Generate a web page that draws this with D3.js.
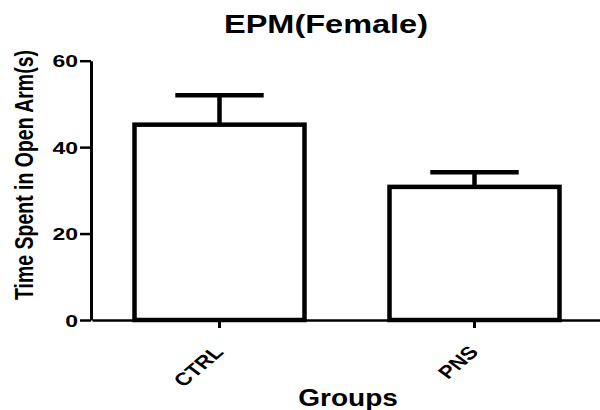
<!DOCTYPE html>
<html>
<head>
<meta charset="utf-8">
<script src="https://cdn.jsdelivr.net/npm/d3@7/dist/d3.min.js"></script>
<style>
  html, body { margin: 0; padding: 0; background: #fff; }
  svg { display: block; }
  text { font-family: "Liberation Sans", Arial, sans-serif; fill: #000; }
</style>
</head>
<body>
<svg id="chart" width="600" height="410"></svg>
<script>
// Data
const groups = ["CTRL", "PNS"];
const means = [45.2, 30.8];
const sems = [6.8, 3.4];
const yTicks = [0, 20, 40, 60];
const title = "EPM(Female)";
const xTitle = "Groups";
const yTitle = "Time Spent in Open Arm(s)";

const svg = d3.select("#chart");
const stretch = 1.35; // glyphs are set wide

const x = d3.scaleBand().domain(groups).range([92, 602])
  .paddingInner(1 / 3).paddingOuter(1 / 6);
const y = d3.scaleLinear().domain([0, 60]).range([320, 60.7]);

// Bars
svg.append("g").selectAll("rect").data(groups).join("rect")
  .attr("x", d => x(d))
  .attr("y", (d, i) => y(means[i]))
  .attr("width", x.bandwidth())
  .attr("height", (d, i) => y(0) - y(means[i]))
  .attr("fill", "#fff").attr("stroke", "#000").attr("stroke-width", 4.5)
  .attr("stroke-linejoin", "miter");

// Error bars (upper only)
const eb = svg.append("g").attr("stroke", "#000").attr("stroke-width", 4.5);
groups.forEach((g, i) => {
  const cx = x(g) + x.bandwidth() / 2;
  const half = x.bandwidth() * 0.26;
  eb.append("line").attr("x1", cx).attr("x2", cx)
    .attr("y1", y(means[i])).attr("y2", y(means[i] + sems[i]));
  eb.append("line").attr("x1", cx - half).attr("x2", cx + half)
    .attr("y1", y(means[i] + sems[i])).attr("y2", y(means[i] + sems[i]));
});

// Y axis
const yAxis = svg.append("g").attr("transform", "translate(91,0)")
  .call(d3.axisLeft(y).tickValues(yTicks).tickSize(11).tickSizeOuter(0).tickFormat(d3.format("d")));
yAxis.select(".domain").attr("stroke", "#000").attr("stroke-width", 3);
yAxis.selectAll(".tick line").attr("stroke", "#000").attr("stroke-width", 2.5);
yAxis.selectAll(".tick text").remove();
yAxis.selectAll(".tick").append("text")
  .attr("transform", `translate(-13,0) scale(${stretch},1)`)
  .attr("dy", "0.36em")
  .attr("text-anchor", "end")
  .style("font-size", "17px").style("font-weight", "bold")
  .text(d => d);

// X axis
const xAxis = svg.append("g").attr("transform", "translate(0,320)")
  .call(d3.axisBottom(x).tickSize(8).tickSizeOuter(0));
xAxis.select(".domain").attr("stroke", "#000").attr("stroke-width", 2.5);
xAxis.selectAll(".tick line").attr("stroke", "#000").attr("stroke-width", 3);
xAxis.selectAll(".tick text").remove();
xAxis.selectAll(".tick").append("text")
  .attr("transform", `translate(5,33) scale(1.25,1) rotate(-47)`)
  .attr("text-anchor", "end")
  .style("font-size", "18px").style("font-weight", "bold")
  .text(d => d);

// Titles
svg.append("text")
  .attr("transform", `translate(326,33) scale(1.3,1)`)
  .attr("text-anchor", "middle")
  .style("font-size", "25px").style("font-weight", "bold")
  .text(title);

svg.append("text")
  .attr("transform", `translate(348,406) scale(1.22,1)`)
  .attr("text-anchor", "middle")
  .style("font-size", "23px").style("font-weight", "bold")
  .text(xTitle);

svg.append("text")
  .attr("transform", `translate(33,175) scale(1.25,1) rotate(-90)`)
  .attr("text-anchor", "middle")
  .attr("textLength", 250).attr("lengthAdjust", "spacingAndGlyphs")
  .style("font-size", "20px").style("font-weight", "bold")
  .text(yTitle);
</script>
</body>
</html>
